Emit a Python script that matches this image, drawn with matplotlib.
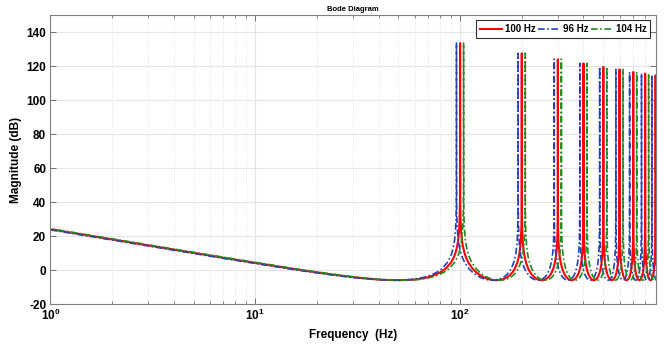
import numpy as np
import matplotlib
matplotlib.use("Agg")
import matplotlib.pyplot as plt
from matplotlib.ticker import FixedLocator, FixedFormatter, NullFormatter

plt.rcParams['font.family'] = ['Liberation Sans', 'DejaVu Sans']
plt.rcParams['font.weight'] = 'bold'
plt.rcParams['axes.unicode_minus'] = False
plt.rcParams['mathtext.fontset'] = 'custom'
plt.rcParams['mathtext.rm'] = 'Liberation Sans:bold'
plt.rcParams['mathtext.bf'] = 'Liberation Sans:bold'

# fundamental of each curve (Hz) and legend text
base_freq = [100, 96, 104]
labels = ['100 Hz', '96 Hz', '104 Hz']

# low-frequency part, frequency as a fraction of the fundamental -> dB
low_ratio = [0.009, 0.01, 0.02, 0.03, 0.05, 0.07, 0.1, 0.15, 0.2, 0.25, 0.3, 0.35, 0.4, 0.45]
low_db = [24.9, 24.0, 18.0, 14.5, 10.1, 7.2, 4.2, 0.8, -1.4, -3.0, -4.2, -5.0, -5.6, -5.9]

# one side of a resonance lobe: distance from the harmonic (fraction of fundamental) -> dB
lobe_offset = [0.5, 0.45, 0.4, 0.35, 0.3, 0.25, 0.2, 0.15, 0.1, 0.07, 0.05, 0.03, 0.02, 0.01, 0.005, 0.002, 0.001]
lobe_db = [-6.0, -5.9, -5.6, -5.0, -4.2, -3.0, -1.4, 0.8, 4.2, 7.2, 10.1, 14.5, 18.0, 24.0, 30.1, 38.0, 44.0]

# peak height at harmonics 1..9
peak_db = [133.5, 127.5, 124.0, 121.5, 119.5, 118.0, 116.5, 115.5, 114.5]

# assemble the curve shape from the pieces above
ratio = list(low_ratio)
mag = list(low_db)
for k, pk in enumerate(peak_db, start=1):
    ratio += [k - d for d in lobe_offset] + [k] + [k + d for d in reversed(lobe_offset)]
    mag += lobe_db + [pk] + lobe_db[::-1]
ratio = np.array(ratio)
mag = np.array(mag)

colors = ['#ff0000', '#2441b0', '#1e8c1e']
styles = ['-', (0, (4, 1.5, 1, 1.5)), (0, (4, 1.5, 1, 1.5))]
widths = [1.5, 1.2, 1.2]

fig = plt.figure(figsize=(6.69, 3.45), dpi=100)
ax = fig.add_axes([0.0752, 0.1188, 0.9048, 0.8377])

for f0, lab, c, ls, lw in zip(base_freq, labels, colors, styles, widths):
    ax.plot(ratio * f0, mag, color=c, linestyle=ls, linewidth=lw, label=lab)

ax.set_xscale('log')
ax.set_xlim(1, 900)
ax.set_ylim(-20, 150)

ax.xaxis.set_major_locator(FixedLocator([1, 10, 100]))
ax.xaxis.set_major_formatter(FixedFormatter([r'$\mathbf{10^{0}}$', r'$\mathbf{10^{1}}$', r'$\mathbf{10^{2}}$']))
minors = [m * 10**e for e in range(0, 3) for m in range(2, 10) if m * 10**e < 900]
ax.xaxis.set_minor_locator(FixedLocator(minors))
ax.xaxis.set_minor_formatter(NullFormatter())
ax.set_yticks(np.arange(-20, 141, 20))

ax.grid(True, which='major', color='#e4e4e4', linewidth=0.8, linestyle='-')
ax.grid(True, which='minor', axis='x', color='#dddddd', linewidth=0.6, linestyle=':')
ax.set_axisbelow(True)

ax.tick_params(which='both', direction='in', top=True, right=True, color='#707070')
ax.tick_params(which='major', length=4, width=0.7, labelsize=8.5, pad=3)
ax.tick_params(which='minor', length=2.5, width=0.6)
for s in ax.spines.values():
    s.set_color('#808080')
    s.set_linewidth(0.8)

ax.set_xlabel('Frequency  (Hz)', fontsize=8.5, fontweight='bold', labelpad=4)
ax.set_ylabel('Magnitude (dB)', fontsize=8.5, fontweight='bold')
ax.yaxis.set_label_coords(-0.047, 0.5)
ax.set_title('Bode Diagram', fontsize=5.5, fontweight='bold', pad=3)

leg = ax.legend(loc='upper right', ncol=3, fontsize=7, frameon=True, fancybox=False,
                handlelength=2.3, handletextpad=0.25, columnspacing=0.25,
                borderpad=0.4, borderaxespad=0.55)
leg.get_frame().set_edgecolor('#303030')
leg.get_frame().set_linewidth(0.8)
leg.get_frame().set_alpha(1)
for t in leg.get_texts():
    t.set_fontweight('bold')

fig.savefig('out.png', dpi=100)
